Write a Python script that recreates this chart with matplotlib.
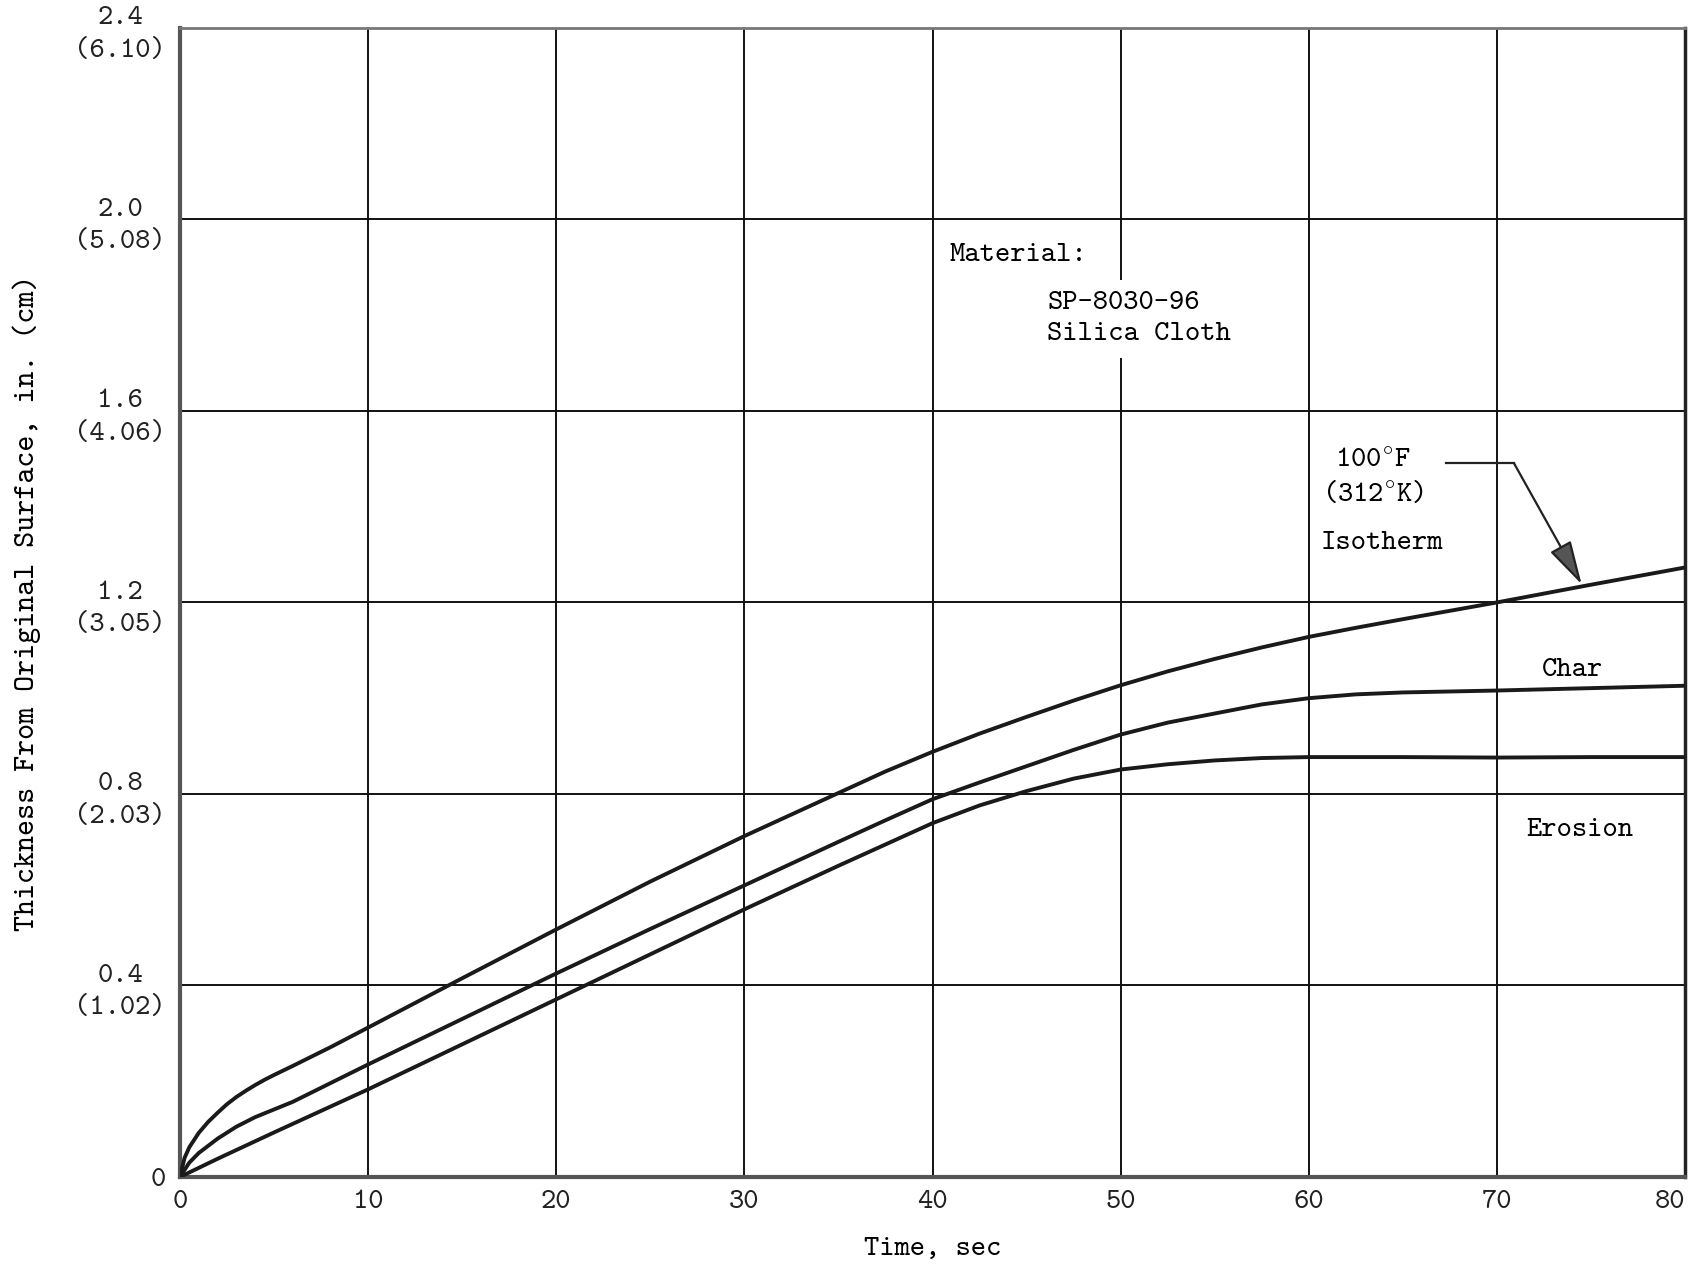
import matplotlib.pyplot as plt

# values (time in sec, thickness in inches)
iso_t = [0, 0.25, 0.5, 1, 1.5, 2, 2.5, 3, 3.5, 4, 4.5, 5, 6, 8, 10, 15, 20, 25,
         30, 35, 37.5, 40, 42.5, 45, 47.5, 50, 52.5, 55, 57.5, 60, 62.5, 65,
         70, 75, 80]
iso_y = [0, 0.04, 0.062, 0.092, 0.115, 0.134, 0.152, 0.167, 0.18, 0.192, 0.203,
         0.213, 0.232, 0.271, 0.312, 0.415, 0.517, 0.617, 0.712, 0.802, 0.847,
         0.888, 0.926, 0.961, 0.995, 1.027, 1.056, 1.082, 1.106, 1.128, 1.147,
         1.165, 1.200, 1.237, 1.273]

char_t = [0, 0.5, 1, 2, 3, 4, 5, 6, 8, 10, 15, 20, 25, 30, 35, 37.5, 40, 42.5,
          45, 47.5, 50, 52.5, 55, 57.5, 60, 62.5, 65, 70, 75, 80]
char_y = [0, 0.03, 0.05, 0.08, 0.105, 0.125, 0.141, 0.157, 0.196, 0.235, 0.33,
          0.425, 0.518, 0.609, 0.70, 0.745, 0.789, 0.824, 0.858, 0.892, 0.924,
          0.949, 0.968, 0.987, 1.000, 1.008, 1.012, 1.016, 1.021, 1.026]

ero_t = [0, 2, 5, 10, 15, 20, 25, 30, 35, 40, 42.5, 45, 47.5, 50, 52.5, 55,
         57.5, 60, 65, 70, 75, 80]
ero_y = [0, 0.038, 0.093, 0.183, 0.277, 0.371, 0.465, 0.559, 0.65, 0.739,
         0.776, 0.806, 0.832, 0.851, 0.862, 0.870, 0.875, 0.877, 0.877, 0.876,
         0.877, 0.877]

x_ticks = [0, 10, 20, 30, 40, 50, 60, 70, 80]
y_ticks = [0, 0.4, 0.8, 1.2, 1.6, 2.0, 2.4]
y_labels = ['0', '0.4\n(1.02)', '0.8\n(2.03)', '1.2\n(3.05)', '1.6\n(4.06)',
            '2.0\n(5.08)', '2.4\n(6.10)']

plt.rcParams['font.family'] = ['cmtt10', 'DejaVu Sans Mono']
plt.rcParams['mathtext.fontset'] = 'cm'
plt.rcParams['font.size'] = 21

fig = plt.figure(figsize=(16.97, 12.66), dpi=100)
ax = fig.add_axes([0.106, 0.0703, 0.887, 0.9077])

for t, y in [(iso_t, iso_y), (char_t, char_y), (ero_t, ero_y)]:
    ax.plot(t, y, color='#1a1a1a', lw=2.8, solid_capstyle='round',
            solid_joinstyle='round', zorder=3)

ax.set_xlim(0, 80)
ax.set_ylim(0, 2.4)
ax.set_xticks(x_ticks)
ax.set_xticklabels([str(v) for v in x_ticks])
ax.get_xticklabels()[-1].set_horizontalalignment('right')
ax.set_yticks(y_ticks)
ax.set_yticklabels(y_labels, multialignment='center', linespacing=1.4)
ax.tick_params(axis='y', length=0, pad=10, colors='#222222')
ax.tick_params(axis='x', length=0, pad=9, colors='#222222')
ax.grid(True, color='#111111', lw=1.4)

for side in ['left', 'bottom']:
    ax.spines[side].set_linewidth(3)
    ax.spines[side].set_color('#555555')
ax.spines['top'].set_linewidth(2)
ax.spines['top'].set_color('#777777')
ax.spines['right'].set_linewidth(2.5)
ax.spines['right'].set_color('#222222')

ax.set_xlabel('Time, sec', labelpad=16)
ax.set_ylabel('Thickness From Original Surface, in. (cm)', labelpad=24,
              fontsize=22)

# text labels
ax.text(40.9, 1.925, 'Material:', ha='left', va='center')
ax.text(46.1, 1.792, 'SP-8030-96\nSilica Cloth', ha='left', va='center',
        linespacing=1.3, zorder=4,
        bbox=dict(facecolor='white', edgecolor='none', pad=8))
ax.text(63.4, 1.494, r'100$^{\circ}$F', ha='center', va='center')
ax.text(63.4, 1.426, r'(312$^{\circ}$K)', ha='center', va='center')
ax.text(63.9, 1.324, 'Isotherm', ha='center', va='center')
ax.text(74.0, 1.058, 'Char', ha='center', va='center')
ax.text(74.4, 0.723, 'Erosion', ha='center', va='center')

# leader arrow to the isotherm curve
ax.plot([67.3, 70.9], [1.491, 1.491], color='#222222', lw=1.6)
ax.annotate('', xy=(74.5, 1.238), xytext=(70.9, 1.491),
            arrowprops=dict(arrowstyle='-|>,head_length=1.3,head_width=0.35',
                            facecolor='#555555', edgecolor='#222222',
                            lw=1.6, shrinkA=0, shrinkB=0))

fig.savefig('out.png', dpi=100)
